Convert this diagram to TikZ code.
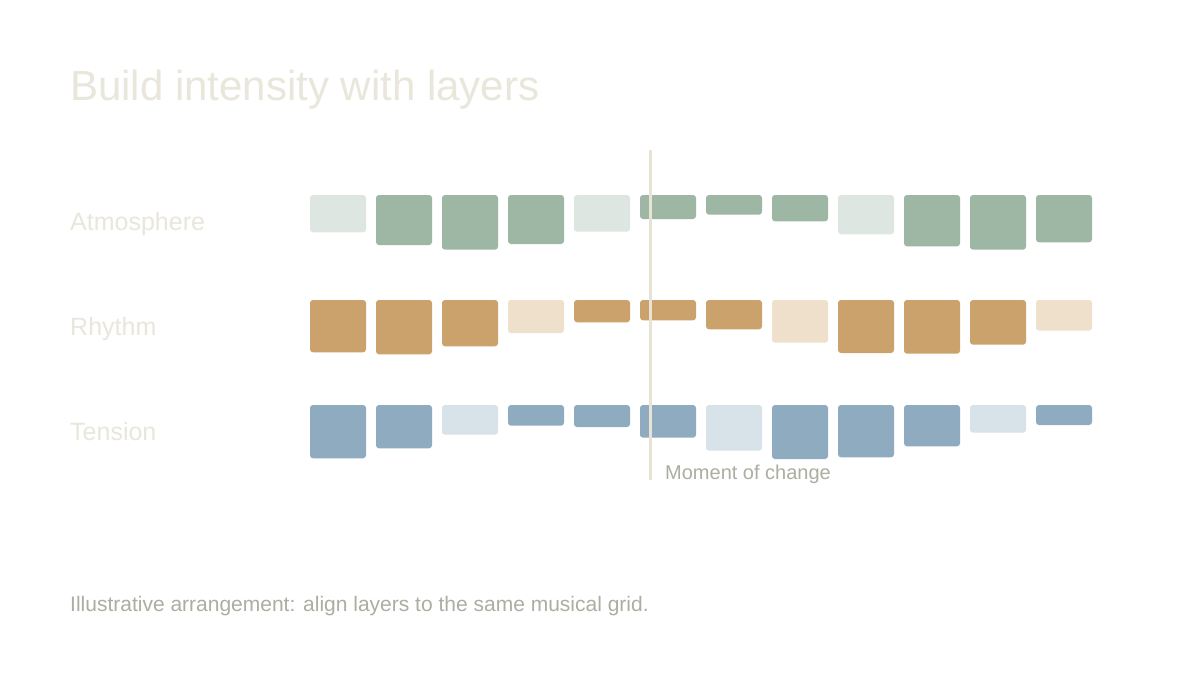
\documentclass[tikz,border=0pt]{standalone}
\usepackage{fontspec}
\setmainfont{Liberation Sans}
\usetikzlibrary{positioning}

\definecolor{headcol}{HTML}{E9E6DB}
\definecolor{notecol}{HTML}{ADADA2}
\definecolor{markcol}{HTML}{E8E3D5}
\definecolor{atmoD}{HTML}{9EB6A4}
\definecolor{atmoL}{HTML}{DDE6E0}
\definecolor{rhyD}{HTML}{CBA26B}
\definecolor{rhyL}{HTML}{EFE0CB}
\definecolor{tenD}{HTML}{8FABC0}
\definecolor{tenL}{HTML}{D8E2E9}

\tikzset{
  lbl/.style={anchor=base west, inner sep=0pt, text=headcol, font=\fontsize{25}{29}\selectfont},
  note/.style={anchor=base west, inner sep=0pt, text=notecol, font=\fontsize{20}{24}\selectfont},
  cell/.style={rounded corners=3pt}
}

\begin{document}
\begin{tikzpicture}[x=1pt, y=-1pt]
        %RANGKA
        \useasboundingbox[fill=white] (0,0) rectangle (1200,675);
        %JUDUL
        \node[anchor=base west, inner sep=0pt, text=headcol, font=\fontsize{42}{48}\selectfont] (title) at (70,100.7) {Build intensity with layers};
        %LABEL
        \node[lbl] (atmo) at (70,230) {Atmosphere};
        \node[lbl] (rhy) at (70,335) {Rhythm};
        \node[lbl] (ten) at (70,440) {Tension};
        %KOTAK
        \foreach \h/\c [count=\i from 0] in {37.3/atmoL, 50/atmoD, 54.7/atmoD, 49/atmoD, 36.7/atmoL, 24/atmoD, 19.7/atmoD, 26.3/atmoD, 39.3/atmoL, 51.3/atmoD, 54.7/atmoD, 47.3/atmoD}
          \fill[cell, \c] ({310+66*\i},195) rectangle +(56,\h);
        \foreach \h/\c [count=\i from 0] in {52.3/rhyD, 54.3/rhyD, 46.3/rhyD, 33/rhyL, 22.3/rhyD, 20.3/rhyD, 29.3/rhyD, 42.7/rhyL, 53/rhyD, 53.7/rhyD, 44.7/rhyD, 30.7/rhyL}
          \fill[cell, \c] ({310+66*\i},300) rectangle +(56,\h);
        \foreach \h/\c [count=\i from 0] in {53.3/tenD, 43.3/tenD, 29.7/tenL, 20.7/tenD, 22/tenD, 32.7/tenD, 45.7/tenL, 54/tenD, 52.3/tenD, 41.3/tenD, 27.7/tenL, 20/tenD}
          \fill[cell, \c] ({310+66*\i},405) rectangle +(56,\h);
        %GARIS
        \coordinate (mtop) at (650,150);
        \coordinate (mbot) at (650,479.5);
        \draw[markcol, line width=3pt] (mtop) -- (mbot);
        \node[note] (moment) at (665,479.3) {Moment of change};
        %CATATAN
        \node[note, font=\fontsize{21}{25}\selectfont] (foot) at (70,611) {Illustrative arrangement: align layers to the same musical grid.};
    \end{tikzpicture}
\end{document}
